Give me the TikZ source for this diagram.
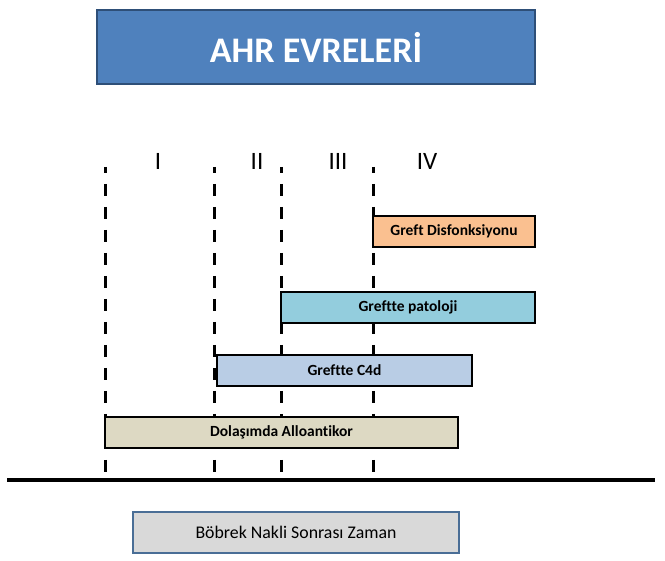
\documentclass[tikz,border=0pt]{standalone}
\usepackage{fontspec}
\setmainfont{Carlito}[Ligatures={NoCommon}]
\usepackage{xcolor}
\definecolor{titleblue}{HTML}{4F81BD}
\definecolor{titleedge}{HTML}{2E4F78}
\definecolor{peach}{HTML}{FAC090}
\definecolor{teal}{HTML}{93CDDD}
\definecolor{paleblue}{HTML}{B9CDE5}
\definecolor{tan}{HTML}{DDD9C3}
\definecolor{timegrey}{HTML}{D9D9D9}
\definecolor{timeedge}{HTML}{4A6E96}

\begin{document}
\begin{tikzpicture}[
    x=1pt, y=-1pt,
    phase/.style={dash pattern=on 12pt off 11pt, dash phase=6pt, line width=3pt},
    bar/.style={draw=black, line width=2.6pt, inner sep=0pt, outer sep=0pt,
                anchor=north west, font=\fontsize{15.5}{18}\selectfont\bfseries},
    num/.style={font=\fontsize{25}{28}\selectfont, inner sep=0pt},
  ]
  \useasboundingbox (0,0) rectangle (665,561);

  %% ---- title ------------------------------------------------------------
  \node[fill=titleblue, draw=titleedge, line width=1.8pt, anchor=north west,
        minimum width=438pt, minimum height=74pt, inner sep=0pt, outer sep=0pt,
        text=white, font=\fontsize{36}{40}\selectfont\bfseries]
    (title) at (97,10) {AHR EVRELERİ};

  %% ---- phase borders and numerals -----------------------------------------
  \foreach \x/\n in {105/a, 214/b, 281/c, 373/d} {
    \coordinate (top\n) at (\x,167);
    \coordinate (bot\n) at (\x,480);
    \draw[phase] (top\n) -- (bot\n);
  }
  \node[num] (phI)   at (158,161) {I};
  \node[num] (phII)  at (257,161) {II};
  \node[num] (phIII) at (338,161) {III};
  \node[num] (phIV)  at (427,161) {IV};

  %% ---- findings -------------------------------------------------------------
  \node[bar, fill=peach, minimum width=162pt, minimum height=31pt]
    (disf) at (373,216) {Greft Disfonksiyonu};
  \node[bar, fill=teal, minimum width=254pt, minimum height=31pt]
    (pato) at (281,292) {Greftte patoloji};
  \node[bar, fill=paleblue, minimum width=255pt, minimum height=31pt]
    (cfd) at (217,355) {Greftte C4d};
  \node[bar, fill=tan, minimum width=353pt, minimum height=31pt]
    (allo) at (105,417) {Dolaşımda Alloantikor};

  %% ---- time axis ------------------------------------------------------------
  \coordinate (axL) at (7,480);
  \coordinate (axR) at (655,480);
  \draw[line width=4pt] (axL) -- (axR);
  \node[fill=timegrey, draw=timeedge, line width=1.8pt, anchor=north west,
        minimum width=326pt, minimum height=41pt, inner sep=0pt, outer sep=0pt,
        font=\fontsize{17.8}{20}\selectfont]
    (zaman) at (133,512) {Böbrek Nakli Sonrası Zaman};
\end{tikzpicture}
\end{document}
